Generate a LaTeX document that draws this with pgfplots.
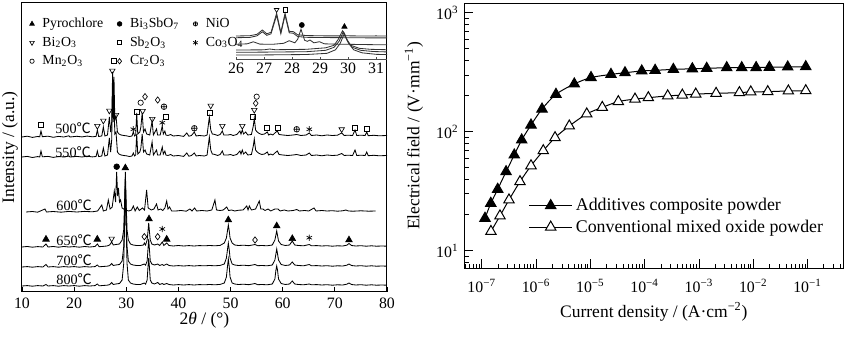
\documentclass[border=0pt]{standalone}
\usepackage{pgfplots}
\pgfplotsset{compat=1.18}
\usepackage{fontspec}
\setmainfont{Liberation Serif}
\newfontfamily\cjk{Noto Sans CJK SC}
\newcommand{\tfont}{\fontsize{9.5}{11}\selectfont}
\newcommand{\lfont}{\fontsize{10.5}{12}\selectfont}
\begin{document}
\begin{tikzpicture}
\useasboundingbox (0,0) rectangle (510pt,202.8pt);
% ================= LEFT: XRD =================
\begin{axis}[at={(13.2pt,27.6pt)}, anchor=south west, scale only axis,
  width=219pt, height=173.4pt,
  xmin=10, xmax=80, ymin=0, ymax=289,
  xtick={10,20,...,80}, ytick=\empty, xtick pos=left, tick align=inside,
  major tick length=3pt,
  axis line style={line width=0.6pt},
  every tick/.style={black, line width=0.5pt},
  ticklabel style={font=\tfont},
  /pgf/number format/assume math mode=true,
  xlabel={2\textit{θ} / (°)},
  xlabel style={font=\lfont, at={(axis description cs:0.5,-0.097)}, anchor=center},
  ylabel={Intensity / (a.u.)},
  ylabel style={font=\lfont, at={(axis description cs:-0.033,0.5)}, anchor=center},
  legend columns=3,
  legend cell align=left,
  legend image code/.code={\path[draw=none,fill=none] (0cm,0cm) -- (0.25cm,0cm); \draw[#1] plot coordinates {(0.1cm,0cm)};},
  legend style={at={(0.009,0.967)}, anchor=north west, draw=none, fill=none,
    font=\fontsize{8.3}{10}\selectfont, inner sep=1pt, row sep=0pt,
    /tikz/every even column/.append style={column sep=5pt}},
  clip=false]
\addlegendimage{only marks, mark=triangle*, mark size=1.6pt, black}
\addlegendentry{Pyrochlore}
\addlegendimage{only marks, mark=*, mark size=1.4pt, black}
\addlegendentry{Bi\textsubscript{3}SbO\textsubscript{7}}
\addlegendimage{only marks, mark=oplus, mark size=1.3pt, black}
\addlegendentry{NiO}
\addlegendimage{only marks, mark=triangle, mark options={rotate=180}, mark size=1.6pt, black}
\addlegendentry{Bi\textsubscript{2}O\textsubscript{3}}
\addlegendimage{only marks, mark=square, mark size=1.2pt, black}
\addlegendentry{Sb\textsubscript{2}O\textsubscript{3}}
\addlegendimage{only marks, mark=asterisk, mark size=1.6pt, black}
\addlegendentry{Co\textsubscript{3}O\textsubscript{4}}
\addlegendimage{only marks, mark=o, mark size=1.3pt, black}
\addlegendentry{Mn\textsubscript{2}O\textsubscript{3}}
\addlegendimage{only marks, mark=diamond, mark size=1.6pt, black}
\addlegendentry{Cr\textsubscript{2}O\textsubscript{3}}
% 500 C
\addplot[black, line width=0.5pt, forget plot] coordinates {
(10,155)(11,155.8)(12,154.6)(13,155.5)(13.4,155.2)(13.64,161)(13.9,155.3)(15,155.8)(16,154.7)(17,155.6)(18,155)(19,156.2)(19.2,155)(20.5,155.7)(21.5,155.1)(22.5,155.9)(23.5,155.2)(24.2,155.6)(24.45,162)(24.7,155.5)(25.3,156)(25.6,165)(25.9,156)(26.4,157)(26.75,175)(27.0,160)(27.2,170)(27.38,220)(27.5,185)(27.64,215)(27.8,172)(28.03,176)(28.3,160)(28.6,158)(29,157)(29.5,156.5)(30,156.2)(30.6,155.5)(31.1,156)(31.35,160)(31.6,156)(31.8,157)(32.0,179)(32.2,158)(32.6,160)(32.8,165)(33.05,179)(33.3,160)(33.6,163)(33.9,158)(34.5,157)(34.95,171)(35.2,157)(35.8,163)(36.0,157)(36.5,157)(36.9,166)(37.1,158)(37.4,161)(37.6,157)(38,156.5)(38.5,157.5)(39,156)(40,156.5)(41,155.6)(41.6,159)(42,155.8)(42.5,156.5)(43.05,160)(43.4,156)(44,156.5)(45,156)(45.5,157)(45.93,175)(46.2,162)(46.5,158)(47,157.5)(47.5,156.5)(48,157.5)(48.42,161)(48.7,157)(49.5,157)(50,157.5)(50.5,156.5)(51.2,157.5)(51.8,161)(52.0,158)(52.25,162)(52.5,158)(52.9,160)(53.3,157)(54,157.5)(54.36,166)(54.55,174)(54.8,162)(55.1,160)(55.5,158.5)(56,157.5)(56.5,158)(57.05,160)(57.3,157)(57.7,158)(58.1,157)(58.5,159)(58.97,161)(59.3,157.5)(60,157)(61,156.5)(62,157)(62.68,157.5)(63.5,156.5)(64.5,157)(65.1,159)(65.5,156.5)(66.5,157)(67.5,156.2)(68.5,157)(69.5,156.5)(70.5,156.8)(71.31,159)(71.8,156.5)(72.5,156.8)(73.4,156.5)(73.87,162)(74.2,156.5)(75,156.8)(75.8,156.5)(76.11,160)(76.4,156.3)(77.5,156.7)(78.5,156.2)(80,156.5)};
% 550 C
\addplot[black, line width=0.5pt, forget plot] coordinates {
(10,135)(11,135.6)(12,134.5)(13,135.4)(13.4,135)(13.64,141)(13.9,135.2)(15,135.6)(16,134.6)(17,135.5)(18,135)(19,136)(19.2,135)(20.5,135.6)(21.5,135)(22.5,135.8)(23.5,135.1)(24.2,135.5)(24.45,141)(24.7,135.4)(25.3,136)(25.6,144)(25.9,136)(26.4,137)(26.75,154)(27.0,140)(27.2,152)(27.38,205)(27.5,170)(27.64,195)(27.8,158)(28.03,160)(28.3,140)(28.6,138)(29,137)(29.5,136.5)(30,136.2)(30.6,135.5)(31.1,136)(31.35,139)(31.6,136)(31.8,137)(32.0,158)(32.2,138)(32.6,140)(32.8,144)(33.05,158)(33.3,140)(33.6,142)(33.9,138)(34.5,137)(34.95,150)(35.2,137)(35.8,142)(36.0,137)(36.5,137)(36.9,145)(37.1,138)(37.4,141)(37.6,137)(38,136.5)(38.5,137.5)(39,136)(40,136.5)(41,135.6)(41.6,139)(42,135.8)(42.5,136.5)(43.05,139)(43.4,136)(44,136.5)(45,136)(45.5,137)(45.93,155)(46.2,142)(46.5,138)(47,137.5)(47.5,136.5)(48,137.5)(48.42,141)(48.7,137)(49.5,137)(50,137.5)(50.5,136.5)(51.2,137.5)(51.8,141)(52.0,138)(52.25,142)(52.5,138)(52.9,140)(53.3,137)(54,137.5)(54.36,146)(54.55,153)(54.8,142)(55.1,140)(55.5,138.5)(56,137.5)(56.5,138)(57.05,140)(57.3,137)(57.7,138)(58.1,137)(58.5,139)(58.97,141)(59.3,137.5)(60,137)(61,136.5)(62,137)(62.68,137.5)(63.5,136.5)(64.5,137)(65.1,139)(65.5,136.5)(66.5,137)(67.5,136.2)(68.5,137)(69.5,136.5)(70.5,136.8)(71.31,138.5)(71.8,136.5)(72.5,136.8)(73.4,136.5)(73.87,142)(74.2,136.5)(75,136.8)(75.8,136.5)(76.11,140)(76.4,136.3)(77.5,136.7)(78.5,136.2)(80,136.5)};
% 600 C
\addplot[black, line width=0.5pt, forget plot] coordinates {
(10.8,80)(12,80.5)(13,79.8)(14.4,83)(14.7,80)(16,80.5)(17.5,79.8)(19,80.6)(20.5,80)(22,80.6)(23.5,80.2)(24.5,81)(25.3,87)(25.6,81)(26.2,82)(26.55,92)(26.9,83)(27.3,85)(27.7,101)(27.95,90)(28.15,120)(28.35,96)(28.5,104)(28.7,90)(28.9,92)(29.2,84)(29.8,82)(30.5,81)(31.0,82)(31.35,86)(31.7,81)(32.1,85)(32.5,81.5)(33.1,84)(33.5,82)(33.9,102)(34.2,84)(34.8,82)(35.3,83)(35.8,88)(36.1,82)(36.6,83)(37.0,81.5)(37.4,84)(37.75,91)(38.0,83)(38.3,85)(38.7,81)(39.5,81)(40.5,81.5)(41.5,80.8)(42.2,83)(42.6,81)(43.1,84)(43.5,81)(44.5,81.5)(45.5,81)(46.4,82)(47.0,92)(47.3,82)(48,81.5)(48.6,82)(49.26,85)(49.6,81.5)(50.2,82)(50.8,81)(51.6,81.8)(52.4,82)(53.1,86)(53.35,82)(53.6,86)(54,82)(54.8,83)(55.5,91)(55.8,83)(56.2,83)(56.6,81.5)(57.2,83)(57.7,81)(58.5,83)(59.1,83)(59.5,81)(60.3,82)(61,81)(62,81.5)(62.7,82.5)(63.2,81)(64.2,81.5)(65,81)(66.0,84)(66.4,81)(67.5,81.5)(68.5,81)(69.5,81.3)(70.5,80.8)(71.5,81.2)(72.1,82)(72.6,81)(73.5,80.8)(75,81.2)(76.5,80.8)(77.8,81)};
% 650 C
\addplot[black, line width=0.5pt, forget plot] coordinates {
(10,45)(11,45.5)(12,44.8)(13,45.4)(14,45)(14.6,48)(15,45)(16,45.5)(17,44.8)(18,45.5)(19,45)(20,45.4)(21,44.8)(22,45.5)(23,45)(24,45.5)(24.45,48)(24.8,45.3)(25.5,45.6)(26.3,46)(26.8,47)(27.2,50)(27.5,47)(28,47.5)(28.7,48)(29.2,52)(29.5,62)(29.65,85)(29.82,120)(30.0,85)(30.15,62)(30.4,52)(30.8,48)(31.3,47)(32,46.5)(32.7,46.5)(33.3,47)(33.46,49)(33.7,47)(34.0,52)(34.15,60)(34.3,69)(34.45,60)(34.6,52)(34.9,48)(35.4,47)(36.02,48)(36.4,46.5)(36.91,50)(37.2,46.5)(37.75,49)(38.2,46.5)(39,46)(40,46.5)(41,46)(42,46.4)(43,46)(44,46.4)(45,46.2)(46,46.5)(47,46.2)(48,46.6)(48.8,49)(49.2,54)(49.4,61)(49.57,67)(49.75,61)(49.9,54)(50.3,49)(50.8,47)(51.5,46.5)(52.5,46.8)(53.5,46.3)(54.69,47.5)(55.2,46.3)(56,46.5)(57,46.2)(58,47)(58.5,52)(58.85,61)(59.2,51)(59.7,47.5)(60.5,46.5)(61.3,47)(61.84,51)(62.3,47)(63,46.5)(64,46.2)(65.1,47.5)(65.5,46.2)(66.5,46.4)(67.5,46)(68.5,46.3)(69.5,45.8)(70.5,46.2)(71.5,46)(72.3,46.8)(72.71,48.5)(73.2,46.5)(74,46)(75,46.3)(76,45.8)(77,46.2)(78,45.8)(79,46)(80,45.8)};
% 700 C
\addplot[black, line width=0.5pt, forget plot] coordinates {
(10,25)(11,25.4)(12,24.8)(13,25.4)(14,25)(14.6,27.5)(15,25)(16,25.4)(17,24.8)(18,25.4)(19,25)(20,25.4)(21,24.8)(22,25.4)(23,25)(24,25.4)(24.45,27)(24.8,25.2)(25.5,25.5)(26.3,25.8)(26.8,26.3)(27.2,28.5)(27.5,26.5)(28,27)(28.7,27.5)(29.2,31)(29.5,45)(29.65,70)(29.82,115)(30.0,70)(30.15,45)(30.4,31)(30.8,28)(31.3,27)(32,26.5)(32.7,26.5)(33.46,28)(33.7,26.8)(34.0,31)(34.15,42)(34.3,53)(34.45,42)(34.6,31)(34.9,28)(35.4,27)(36.02,28)(36.4,26.5)(36.91,27.5)(37.2,26.5)(37.75,28)(38.2,26.5)(39,26)(40,26.4)(41,26)(42,26.4)(43,26)(44,26.4)(45,26.2)(46,26.5)(47,26.2)(48,26.6)(48.8,28)(49.2,34)(49.4,42)(49.57,49)(49.75,42)(49.9,34)(50.3,28)(50.8,27)(51.5,26.5)(52.5,26.8)(53.5,26.3)(54.69,27.5)(55.2,26.3)(56,26.5)(57,26.2)(58,27)(58.5,32)(58.85,43)(59.2,32)(59.7,27.5)(60.5,26.5)(61.3,27)(61.84,30)(62.3,27)(63,26.5)(64,26.2)(65.1,27.5)(65.5,26.2)(66.5,26.4)(67.5,26)(68.5,26.3)(69.5,25.8)(70.5,26.2)(71.5,26)(72.3,26.8)(72.71,28)(73.2,26.5)(74,26)(75,26.3)(76,25.8)(77,26.2)(78,25.8)(79,26)(80,25.8)};
% 800 C
\addplot[black, line width=0.5pt, forget plot] coordinates {
(10,6)(11,6.4)(12,5.8)(13,6.4)(14,6)(14.6,7.5)(15,6)(16,6.4)(17,5.8)(18,6.4)(19,6)(20,6.4)(21,5.8)(22,6.4)(23,6)(24,6.4)(24.45,8)(24.8,6.2)(25.5,6.5)(26.3,6.8)(26.8,7.3)(27.2,9.5)(27.5,7.5)(28,8)(28.7,8.5)(29.2,12)(29.5,28)(29.65,60)(29.82,110)(30.0,60)(30.15,28)(30.4,12)(30.8,9)(31.3,8)(32,7.5)(32.7,7.5)(33.46,9)(33.7,7.8)(34.0,12)(34.15,24)(34.3,34)(34.45,24)(34.6,12)(34.9,9)(35.4,8)(36.02,9.5)(36.4,7.5)(36.91,8.5)(37.2,7.5)(37.75,8.5)(38.2,7.5)(39,7)(40,7.4)(41,7)(42,7.4)(43,7)(44,7.4)(45,7.2)(46,7.5)(47,7.2)(48,7.6)(48.8,9)(49.2,15)(49.4,25)(49.57,33)(49.75,25)(49.9,15)(50.3,9)(50.8,8)(51.5,7.5)(52.5,7.8)(53.5,7.3)(54.69,8.5)(55.2,7.3)(56,7.5)(57,7.2)(58,8)(58.5,13)(58.7,22)(58.85,26)(59.0,22)(59.2,13)(59.7,8.5)(60.5,7.5)(61.3,8)(61.84,11)(62.3,8)(63,7.5)(64,7.2)(65.1,8)(65.5,7.2)(66.5,7.4)(67.5,7)(68.5,7.3)(69.5,6.8)(70.5,7.2)(71.5,7)(72.3,7.8)(72.71,9)(73.2,7.5)(74,7)(75,7.3)(76,6.8)(77,7.2)(78,6.8)(79,7)(80,6.8)};
% ---- phase markers ----
\addplot[only marks, mark=triangle*, mark size=2.3pt, black, forget plot] coordinates {
(29.82,124)(14.6,52.7)(24.44,52.7)(34.36,73)(37.75,52.7)(49.57,72)(58.85,66)(61.84,53.3)(72.71,52)};
\addplot[only marks, mark=*, mark size=1.7pt, black, forget plot] coordinates {(28.16,125.3)};
\addplot[only marks, mark=triangle, mark options={rotate=180}, mark size=1.9pt, black, forget plot] coordinates {
(24.45,166)(25.6,171.3)(26.75,181.3)(27.32,221.3)(28.03,177)(33.14,181)(34.99,173)(46.19,186.3)(48.42,166)(52.25,166)(54.55,182)(71.31,162.7)(27.2,53.3)};
\addplot[only marks, mark=square, mark size=1.5pt, black, forget plot] coordinates {
(13.64,167)(27.64,231.3)(32.0,179.7)(37.55,175.3)(45.93,178.7)(54.36,175.3)(57.05,164.3)(58.97,164.3)(73.87,164.3)(76.11,163)};
\addplot[only marks, mark=o, mark size=1.6pt, black, forget plot] coordinates {(32.76,189.3)(55.01,195.3)};
\addplot[only marks, mark=diamond, mark size=1.9pt, black, forget plot] coordinates {
(33.59,195.3)(36.02,192)(54.82,188.7)(33.46,55.3)(36.02,55.3)(54.69,52)};
\addplot[only marks, mark=oplus, mark size=1.7pt, black, forget plot] coordinates {(37.23,185.3)(43.05,163.7)(62.68,162.7)};
\addplot[only marks, mark=asterisk, mark size=1.9pt, black, forget plot] coordinates {
(31.35,162.7)(36.91,169.3)(65.1,162.7)(36.91,63)(65.1,54.3)};
% temperature labels
\node[font=\fontsize{8.5}{10}\selectfont] at (axis cs:19.8,163.7) {500{\cjk ℃}};
\node[font=\fontsize{8.5}{10}\selectfont] at (axis cs:19.8,140.3) {550{\cjk ℃}};
\node[font=\fontsize{8.5}{10}\selectfont] at (axis cs:20.0,87) {600{\cjk ℃}};
\node[font=\fontsize{8.5}{10}\selectfont] at (axis cs:20.0,52) {650{\cjk ℃}};
\node[font=\fontsize{8.5}{10}\selectfont] at (axis cs:20.0,32) {700{\cjk ℃}};
\node[font=\fontsize{8.5}{10}\selectfont] at (axis cs:20.0,12.7) {800{\cjk ℃}};
\end{axis}
% ================= INSET =================
\begin{axis}[at={(141.6pt,167.2pt)}, anchor=south west, scale only axis,
  width=90.6pt, height=33.8pt,
  xmin=26, xmax=31.39, ymin=0, ymax=56.3,
  axis x line=bottom, axis y line=none,
  x axis line style={-, line width=0.5pt, black!70},
  xtick={26,27,...,31}, tick align=inside, major tick length=1.5pt,
  every tick/.style={black!70, line width=0.4pt},
  ticklabel style={font=\tfont, yshift=1.5pt},
  /pgf/number format/assume math mode=true,
  clip=false]
\addplot[black!80, line width=0.5pt] coordinates {
(26,23.3)(26.5,23.6)(26.75,25)(26.94,29.3)(27.1,25.5)(27.25,27)(27.45,46)(27.6,27)(27.75,46)(27.9,28)(28.05,27.6)(28.2,24.5)(28.5,23.8)(29,23.5)(29.5,23.4)(30,23.5)(30.5,23.3)(31,23.4)(31.39,23.3)};
\addplot[black!80, line width=0.5pt] coordinates {
(26,21.6)(26.5,21.9)(26.75,23.5)(26.94,27.5)(27.1,24)(27.25,25.5)(27.45,44)(27.6,25.5)(27.75,44)(27.9,26.5)(28.05,26)(28.2,22.8)(28.5,22)(29,21.8)(29.5,21.7)(30,21.6)(30.5,21.5)(31,21.4)(31.39,21.4)};
\addplot[black!80, line width=0.5pt] coordinates {
(26,15)(26.4,15.5)(26.62,17.5)(26.85,15.2)(27.3,15)(27.7,16)(27.9,18.6)(28.1,16.5)(28.2,20)(28.32,30)(28.45,19)(28.55,18)(28.64,19.3)(28.78,16.5)(28.98,17.6)(29.15,15.5)(29.5,15.2)(30,15)(30.5,14.8)(31,14.6)(31.39,14.5)};
\addplot[black!80, line width=0.5pt] coordinates {
(26,9.3)(27,9.5)(27.2,10.3)(27.4,9.6)(28.5,10)(29.2,11.5)(29.5,14)(29.65,20)(29.8,28.5)(29.95,20)(30.1,14)(30.4,11)(30.8,10)(31.39,9.6)};
\addplot[black!80, line width=0.5pt] coordinates {
(26,7)(27,7.2)(28.5,7.6)(29.2,9)(29.5,12)(29.68,18)(29.83,27.5)(29.98,18)(30.15,12)(30.45,9)(30.9,7.8)(31.39,7.4)};
\addplot[black!80, line width=0.5pt] coordinates {
(26,4.3)(27,4.4)(28.5,4.8)(29.25,6)(29.55,9.5)(29.72,16)(29.87,26)(30.02,16)(30.2,9.5)(30.5,6.5)(31,5)(31.39,4.7)};
\addplot[only marks, mark=triangle, mark options={rotate=180}, mark size=1.6pt, black] coordinates {(27.45,49.5)};
\addplot[only marks, mark=square, mark size=1.3pt, black] coordinates {(27.76,49.5)};
\addplot[only marks, mark=*, mark size=1.5pt, black] coordinates {(28.35,34.3)};
\addplot[only marks, mark=triangle*, mark size=1.8pt, black] coordinates {(29.87,32.6)};
\end{axis}
% ================= RIGHT: E-J =================
\begin{axis}[at={(278.6pt,41.8pt)}, anchor=south west, scale only axis,
  width=227.4pt, height=159pt,
  xmode=log, ymode=log,
  xmin=4.79e-8, xmax=0.456, ymin=7.1, ymax=1200,
  xtick={1e-7,1e-6,1e-5,1e-4,1e-3,1e-2,1e-1},
  xticklabels={10\textsuperscript{−7},10\textsuperscript{−6},10\textsuperscript{−5},10\textsuperscript{−4},10\textsuperscript{−3},10\textsuperscript{−2},10\textsuperscript{−1}},
  minor xtick={5e-8,6e-8,7e-8,8e-8,9e-8,2e-7,3e-7,4e-7,5e-7,6e-7,7e-7,8e-7,9e-7,2e-6,3e-6,4e-6,5e-6,6e-6,7e-6,8e-6,9e-6,2e-5,3e-5,4e-5,5e-5,6e-5,7e-5,8e-5,9e-5,2e-4,3e-4,4e-4,5e-4,6e-4,7e-4,8e-4,9e-4,2e-3,3e-3,4e-3,5e-3,6e-3,7e-3,8e-3,9e-3,2e-2,3e-2,4e-2,5e-2,6e-2,7e-2,8e-2,9e-2,2e-1,3e-1,4e-1},
  ytick={10,100,1000},
  yticklabels={10\textsuperscript{1},10\textsuperscript{2},10\textsuperscript{3}},
  minor ytick={8,9,20,30,40,50,60,70,80,90,200,300,400,500,600,700,800,900},
  xtick pos=left, ytick pos=left, tick align=inside,
  major tick length=5.5pt, minor tick length=2.8pt,
  axis line style={line width=0.6pt},
  every tick/.style={black, line width=0.5pt},
  ticklabel style={font=\tfont},
  xticklabel style={yshift=-3pt},
  xlabel={Current density / (A·cm\textsuperscript{−2})},
  xlabel style={font=\lfont, at={(axis description cs:0.5,-0.164)}, anchor=center},
  ylabel={Electrical field / (V·mm\textsuperscript{−1})},
  ylabel style={font=\lfont, at={(axis description cs:-0.133,0.5)}, anchor=center},
  legend cell align=left,
  legend image code/.code={\draw[mark repeat=2,mark phase=2,#1] plot coordinates {(0cm,0cm)(0.45cm,0cm)(0.9cm,0cm)};},
  legend style={at={(0.165,0.285)}, anchor=north west, draw=none, fill=none,
    font=\fontsize{10.7}{12.5}\selectfont, inner sep=1pt, row sep=0pt}]
\addplot[black, line width=0.6pt, smooth, mark=triangle*, mark size=3.6pt, mark options={fill=black, solid}] coordinates {
(1.15e-7,18.7)(1.47e-7,25.0)(1.97e-7,32.8)(2.81e-7,46.1)(3.98e-7,63.7)(5.45e-7,85.2)(8.09e-7,113.8)(1.29e-6,155)(2.33e-6,206)(5.07e-6,252)(1.03e-5,285)(2.40e-5,303)(4.35e-5,313)(8.85e-5,324)(1.56e-4,328)(3.38e-4,334)(7.56e-4,338)(1.39e-3,341)(3.25e-3,345)(6.14e-3,345)(1.13e-2,346)(1.98e-2,348)(4.31e-2,350)(9.27e-2,352)};
\addlegendentry{Additives composite powder}
\addplot[black, line width=0.6pt, smooth, mark=triangle*, mark size=3.6pt, mark options={fill=white, solid}] coordinates {
(1.48e-7,14.5)(2.17e-7,19.6)(3.18e-7,26.7)(5.07e-7,38.0)(8.09e-7,51.7)(1.36e-6,69.2)(2.24e-6,89.1)(4.10e-6,111.7)(8.59e-6,141)(1.66e-5,160)(3.28e-5,179)(6.65e-5,188)(1.17e-4,193)(2.66e-4,200)(4.94e-4,203)(8.73e-4,207)(2.07e-3,210)(5.56e-3,213)(9.00e-3,216)(1.85e-2,217)(4.43e-2,220)(9.27e-2,221)};
\addlegendentry{Conventional mixed oxide powder}
\end{axis}
\end{tikzpicture}
\end{document}
